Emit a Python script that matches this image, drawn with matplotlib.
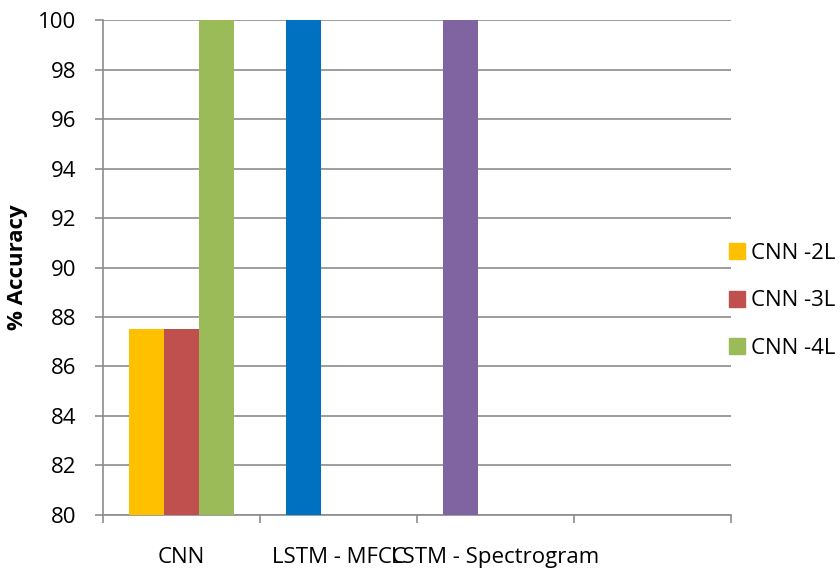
import numpy as np
import matplotlib
matplotlib.use("Agg")
import matplotlib.pyplot as plt
from matplotlib.lines import Line2D

# Chart data
categories = ["CNN", "LSTM - MFCC", "LSTM - Spectrogram", ""]
series_names = ["CNN -2L", "CNN -3L", "CNN -4L"]
acc_2l = [87.5, 100, 100, np.nan]
acc_3l = [87.5, np.nan, np.nan, np.nan]
acc_4l = [100, np.nan, np.nan, np.nan]
# first series is recoloured per category in the original
colors_2l = ["#FFC000", "#0070C0", "#8064A2", "#FFC000"]
color_3l = "#C0504D"
color_4l = "#9BBB59"

plt.rcParams["font.family"] = ["Open Sans", "DejaVu Sans"]
fs = 16

fig = plt.figure(figsize=(8.4, 5.7), dpi=100)
ax = fig.add_axes([0.1226, 0.0965, 0.7476, 0.8684])

x = np.arange(len(categories))
w = 0.67 / 3
ax.bar(x - w, acc_2l, w, color=colors_2l, zorder=3)
ax.bar(x, acc_3l, w, color=color_3l, zorder=3)
ax.bar(x + w, acc_4l, w, color=color_4l, zorder=3)

ax.set_ylim(80, 100)
ax.set_xlim(-0.5, len(categories) - 0.5)
ax.set_yticks(np.arange(80, 101, 2))
ax.yaxis.grid(True, color="#8c8c8c", linewidth=1.2, zorder=0)
ax.set_axisbelow(True)

ax.set_xticks(x)
ax.set_xticklabels(categories, fontsize=fs)
ax.set_xticks(np.arange(-0.5, len(categories)), minor=True)
ax.tick_params(axis="x", which="major", length=0, pad=23)
ax.tick_params(axis="x", which="minor", length=6, color="#8c8c8c", width=1.2)
ax.tick_params(axis="y", length=6, color="#8c8c8c", width=1.2, labelsize=fs, pad=13)

for side in ["top", "right"]:
    ax.spines[side].set_visible(False)
for side in ["left", "bottom"]:
    ax.spines[side].set_color("#8c8c8c")
    ax.spines[side].set_linewidth(1.2)

ax.set_ylabel("% Accuracy", fontsize=fs, fontweight="bold")
ax.yaxis.set_label_coords(-0.119, 0.5)

handles = [
    Line2D([], [], marker="s", linestyle="", markersize=11, color=c)
    for c in ["#FFC000", color_3l, color_4l]
]
fig.legend(handles, series_names, loc="center left", bbox_to_anchor=(0.868, 0.472),
           frameon=False, fontsize=fs, handletextpad=0.3, labelspacing=1.2,
           handlelength=0.7, borderpad=0, borderaxespad=0)

fig.savefig("out.png", dpi=100)
